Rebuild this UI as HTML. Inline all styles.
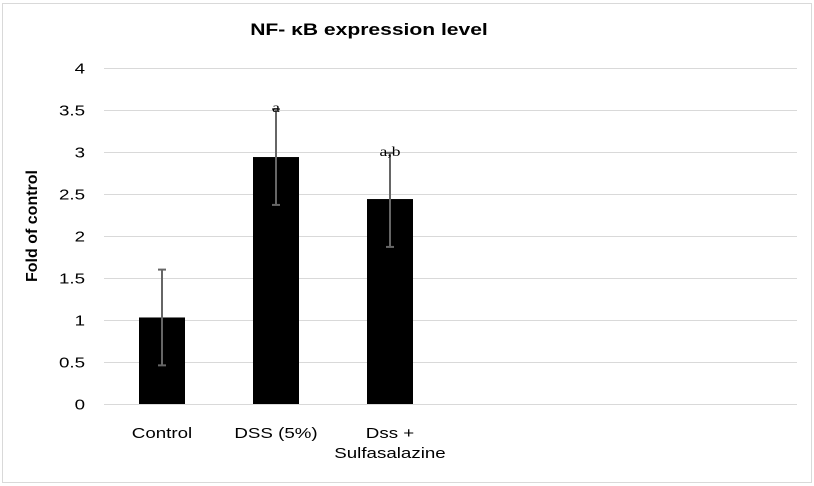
<!DOCTYPE html>
<html><head><meta charset="utf-8"><style>
body{margin:0;background:#fff}
svg{display:block;font-family:"Liberation Sans",Arial,sans-serif}
</style></head><body>
<svg id="chart" width="814" height="486">
<rect x="2.5" y="3.5" width="809" height="479" fill="#fff" stroke="#d9d9d9"/>
<text transform="translate(369,35) scale(1.24,1)" text-anchor="middle" font-size="17" font-weight="bold">NF- κB expression level</text>
<text transform="translate(37,226) rotate(-90)" text-anchor="middle" font-size="16" font-weight="bold">Fold of control</text>
<g id="grid"></g><g id="bars"></g><g id="labels"></g>
</svg>
<script>
const categories=[["Control"],["DSS (5%)"],["Dss +","Sulfasalazine"]];
const values=[1.03,2.94,2.44];
const errLow=[0.46,2.37,1.87];
const errHigh=[1.6,3.51,2.99];
const sigLabels=["","a","a,b"];
const yTicks=[0,0.5,1,1.5,2,2.5,3,3.5,4];
const yTickLabels=["0","0.5","1","1.5","2","2.5","3","3.5","4"];
const NS="http://www.w3.org/2000/svg";
const x0=104,x1=797,y0=404,yTop=68,band=114,barW=46;
const y=v=>y0-(v/4)*(y0-yTop);
const xc=i=>x0+band*(i+0.5);
function mk(t,a,p){const e=document.createElementNS(NS,t);for(const k in a)e.setAttribute(k,a[k]);p.appendChild(e);return e;}
const g=document.getElementById('grid'),b=document.getElementById('bars'),l=document.getElementById('labels');
yTicks.forEach((t,i)=>{
const ln=mk('line',{x1:x0,x2:x1,y1:y(t)+0.5,y2:y(t)+0.5,stroke:'#d9d9d9','stroke-width':1},g);


const tx=mk('text',{transform:'translate(85,'+(y(t)+5.5)+') scale(1.25,1)','text-anchor':'end','font-size':15},g);
tx.textContent=yTickLabels[i];


});
values.forEach((v,i)=>{
const c=xc(i);
const r=mk('rect',{x:c-barW/2+1,y:y(v),width:barW,height:y0-y(v),fill:'#000'},b);


const eg=mk('g',{stroke:'#666','stroke-width':2},b);


mk('line',{x1:c+1,x2:c+1,y1:y(errHigh[i]),y2:y(errLow[i])},eg);
mk('line',{x1:c-3,x2:c+5,y1:y(errHigh[i]),y2:y(errHigh[i])},eg);
mk('line',{x1:c-3,x2:c+5,y1:y(errLow[i]),y2:y(errLow[i])},eg);
if(sigLabels[i]){const s=mk('text',{transform:'translate('+(c+1)+','+(y(errHigh[i])+3)+') scale(1.25,1)','text-anchor':'middle','font-size':14,'font-family':'Liberation Serif, serif'},b);
s.textContent=sigLabels[i];

}
categories[i].forEach((line,j)=>{
const t=mk('text',{transform:'translate('+(c+1)+','+(438+j*20)+') scale(1.25,1)','text-anchor':'middle','font-size':15},l);
t.textContent=line;


});
});
</script>
</body></html>
